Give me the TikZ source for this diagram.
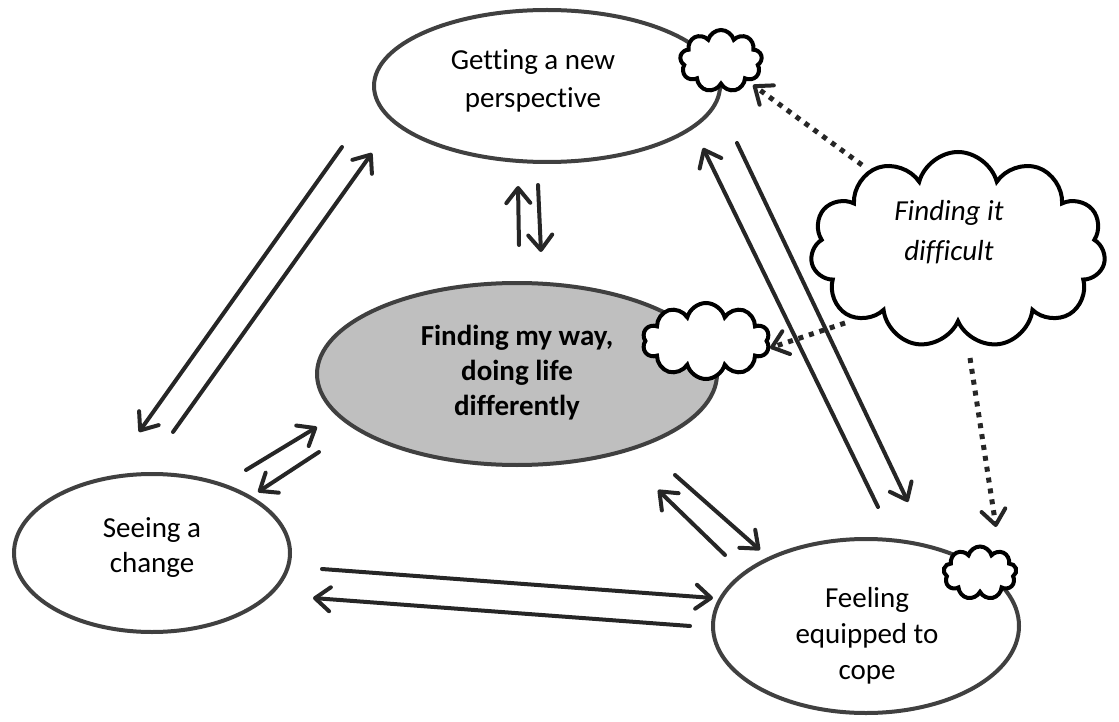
\documentclass[tikz,border=0pt]{standalone}
\usepackage{fontspec}
\setmainfont[Ligatures=NoCommon]{Carlito}
\usetikzlibrary{arrows.meta,shapes.geometric,shapes.symbols}
\definecolor{edge}{HTML}{404040}
\definecolor{ink}{HTML}{262626}
\definecolor{core}{HTML}{BFBFBF}

\begin{document}
\begin{tikzpicture}[x=1pt,y=-1pt,
  stage/.style={draw=edge, line width=4pt, ellipse, fill=white, inner sep=0pt},
  caption/.style={align=center, font=\fontsize{29}{35}\selectfont, inner sep=0pt},
  puff/.style={cloud, draw=black, fill=white, line width=4pt, cloud ignores aspect, inner sep=0pt},
  barb/.style={-{Straight Barb[length=15pt,width=24pt,line width=4pt,line cap=round,line join=round]}},
  link/.style={draw=ink, line width=4pt, line cap=round, barb},
  hint/.style={draw=ink, line width=5pt, dash pattern=on 5pt off 6pt, barb}
]
\useasboundingbox (0,0) rectangle (1119,722);

% the four stages
\node[stage, minimum width=346pt, minimum height=152pt] (persp) at (547,86) {};
\node[stage, fill=core, minimum width=400pt, minimum height=182pt] (way) at (517,374) {};
\node[stage, minimum width=276pt, minimum height=158pt] (change) at (152,553) {};
\node[stage, minimum width=306pt, minimum height=174pt] (cope) at (866,626) {};

\node[caption, font=\fontsize{29}{38}\selectfont] (persptext) at (533,81) {Getting a new\\perspective};
\node[caption, font=\fontsize{29}{35}\selectfont\bfseries] (waytext) at (517,373) {Finding my way,\\doing life\\differently};
\node[caption] (changetext) at (152,548) {Seeing a\\change};
\node[caption, font=\fontsize{29}{36}\selectfont] (copetext) at (867,636) {Feeling\\equipped to\\cope};

% thought clouds
\node[puff, cloud puffs=9, minimum width=82pt, minimum height=62pt] (c1) at (721,61) {};
\node[puff, cloud puffs=10, minimum width=127pt, minimum height=76pt] (c2) at (706,341) {};
\node[puff, cloud puffs=9, minimum width=73pt, minimum height=53pt] (c3) at (980,573) {};
\node[puff, cloud puffs=11, minimum width=295pt, minimum height=196pt] (hard) at (958,250) {};
\node[caption, font=\fontsize{29}{40}\selectfont\itshape] (hardtext) at (949,232) {Finding it\\difficult};

% arrow end points
\coordinate (a1) at (519,245); \coordinate (a2) at (518,186);
\coordinate (b1) at (538,185); \coordinate (b2) at (541,252);
\coordinate (c1s) at (173,432); \coordinate (c1e) at (372,153);
\coordinate (d1) at (342,147); \coordinate (d2) at (139,432);
\coordinate (e1) at (246,470); \coordinate (e2) at (317,427);
\coordinate (f1) at (319,452); \coordinate (f2) at (258,492);
\coordinate (g1) at (322,569); \coordinate (g2) at (713,598);
\coordinate (h1) at (690,626); \coordinate (h2) at (313,598);
\coordinate (i1) at (725,555); \coordinate (i2) at (658,490);
\coordinate (j1) at (675,475); \coordinate (j2) at (760,550);
\coordinate (k1) at (878,507); \coordinate (k2) at (703,148);
\coordinate (l1) at (737,143); \coordinate (l2) at (908,502);
\coordinate (m1) at (862,165); \coordinate (m2) at (753,85);
\coordinate (n1) at (845,323); \coordinate (n2) at (770,348);
\coordinate (o1) at (970,358); \coordinate (o2) at (996,527);

% movement between stages
\draw[link] (a1) -- (a2);
\draw[link] (b1) -- (b2);
\draw[link] (c1s) -- (c1e);
\draw[link] (d1) -- (d2);
\draw[link] (e1) -- (e2);
\draw[link] (f1) -- (f2);
\draw[link] (g1) -- (g2);
\draw[link] (h1) -- (h2);
\draw[link] (i1) -- (i2);
\draw[link] (j1) -- (j2);
\draw[link] (k1) -- (k2);
\draw[link] (l1) -- (l2);

% difficulty reaching into the stages
\draw[hint] (m1) -- (m2);
\draw[hint] (n1) -- (n2);
\draw[hint] (o1) -- (o2);
\end{tikzpicture}
\end{document}
